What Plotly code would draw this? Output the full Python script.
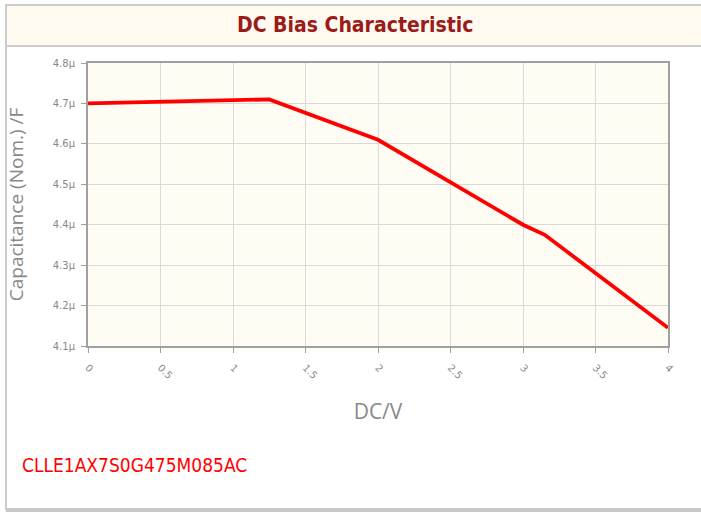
import plotly.graph_objects as go

# Data
dc_volts = [0, 1.25, 2, 3, 3.15, 4]
capacitance_uF = [4.70, 4.71, 4.61, 4.40, 4.375, 4.145]
capacitance_F = [v * 1e-6 for v in capacitance_uF]

x_ticks = [0, 0.5, 1, 1.5, 2, 2.5, 3, 3.5, 4]
y_ticks_uF = [4.1, 4.2, 4.3, 4.4, 4.5, 4.6, 4.7, 4.8]
y_ticks = [v * 1e-6 for v in y_ticks_uF]
y_tick_labels = [f"{v:.1f}µ" for v in y_ticks_uF]

title_text = "DC Bias Characteristic"
part_number = "CLLE1AX7S0G475M085AC"

W, H = 701, 514
# desired screen positions of plot area
SL, SR, ST, SB = 88, 668, 63, 346
L, T = SL, ST
R = W - SR
B = H - SB
pw, ph = W - L - R, H - T - B


def px(x):
    return (x - L) / pw


def py(y):
    return (H - B - y) / ph


fig = go.Figure()
fig.add_trace(go.Scatter(
    x=dc_volts, y=capacitance_F, mode="lines",
    line=dict(color="#ff0000", width=3.8),
    hoverinfo="x+y", showlegend=False,
))

shapes = [
    # header band
    dict(type="rect", xref="paper", yref="paper", x0=px(6), x1=px(720), y0=py(46), y1=py(5),
         fillcolor="#fffaef", line=dict(color="#cccccc", width=2), layer="below"),
    # outer frame left line
    dict(type="line", xref="paper", yref="paper", x0=px(6), x1=px(6), y0=py(510), y1=py(5),
         line=dict(color="#cccccc", width=2)),
    # outer frame bottom line
    dict(type="line", xref="paper", yref="paper", x0=px(6), x1=px(720), y0=py(510), y1=py(510),
         line=dict(color="#c8c8c8", width=4)),
]

annotations = [
    dict(text=f"<b>{title_text}</b>", xref="paper", yref="paper", x=px(355), y=py(25),
         showarrow=False, xanchor="center", yanchor="middle",
         font=dict(family="DejaVu Sans Condensed, DejaVu Sans", size=21, color="#9b1b1b")),
    dict(text=part_number, xref="paper", yref="paper", x=px(20), y=py(465),
         showarrow=False, xanchor="left", yanchor="middle",
         font=dict(family="DejaVu Sans Condensed, DejaVu Sans", size=19, color="#ff0000")),
]

fig.update_layout(
    width=W, height=H,
    margin=dict(l=L, r=R, t=T, b=B, pad=0),
    paper_bgcolor="#ffffff",
    plot_bgcolor="#fffcf3",
    shapes=shapes,
    annotations=annotations,
    xaxis=dict(
        range=[0, 4], tickvals=x_ticks, ticktext=[f"{v:g}" for v in x_ticks],
        tickangle=45, tickfont=dict(family="DejaVu Sans", size=10, color="#888888"),
        ticklabelstandoff=5,
        showgrid=True, gridcolor="#d9d9d9", gridwidth=1,
        showline=True, linecolor="#a0a0a0", linewidth=2, mirror=True,
        ticks="outside", ticklen=5, tickcolor="#a0a0a0",
        zeroline=False,
        title=dict(text="DC/V", font=dict(family="Open Sans", size=21, color="#888888"), standoff=24),
    ),
    yaxis=dict(
        range=[4.1e-6, 4.8e-6], tickvals=y_ticks, ticktext=y_tick_labels,
        tickfont=dict(family="DejaVu Sans", size=10, color="#888888"),
        ticklabelstandoff=4,
        showgrid=True, gridcolor="#d9d9d9", gridwidth=1,
        showline=True, linecolor="#a0a0a0", linewidth=2, mirror=True,
        ticks="outside", ticklen=5, tickcolor="#a0a0a0",
        zeroline=False,
        title=dict(text="Capacitance (Nom.) /F", font=dict(family="Open Sans", size=19, color="#888888"), standoff=24),
    ),
)

fig.write_html(
    "out.html",
    config={"displayModeBar": False},
    post_script="document.body.style.margin='0';document.body.style.overflow='hidden';",
)
